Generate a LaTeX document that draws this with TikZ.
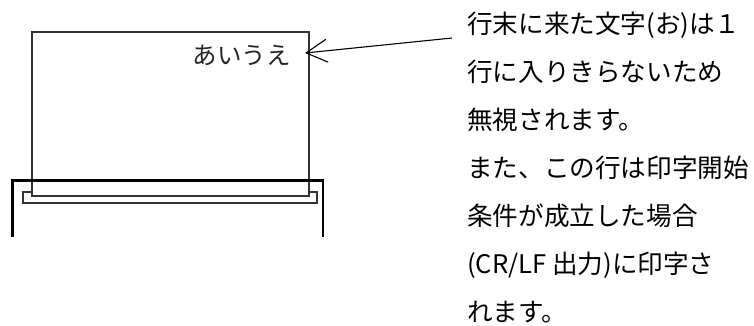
\documentclass[tikz,border=0pt]{standalone}
\usepackage{fontspec}
\newfontfamily\jpfont{Noto Sans CJK JP}
\usetikzlibrary{arrows.meta}
\begin{document}
\begin{tikzpicture}[x=1pt,y=-1pt,
  paperline/.style={draw=black!80,line width=1.3pt},
  txtline/.style={anchor=base west,inner sep=0pt,font=\jpfont\fontsize{25.6}{30}\selectfont},
  pointer/.style={line width=1.1pt,-{Straight Barb[length=21pt,width=23pt]}}]
\useasboundingbox (0,0) rectangle (754,325);
% slot
\draw[draw=black!80,line width=1.2pt] (23,192) rectangle (317,203);
% paper
\draw[paperline,fill=white] (32,32) rectangle (309,196);
% frame
\draw[line width=3pt] (12,237) -- (12,180) -- (323,180);
\draw[line width=1.6pt] (323,179) -- (323,237);
% printed text
\node[anchor=base east,inner sep=0pt,font=\jpfont\fontsize{24.5}{28}\selectfont,text=black!85] (aiue) at (291,64) {あいうえ};
% explanation
\node[txtline] (l1) at (467,33) {行末に来た文字(お)は１};
\node[txtline] (l2) at (467,81) {行に入りきらないため};
\node[txtline] (l3) at (467,129) {無視されます。};
\node[txtline] (l4) at (467,177) {また、この行は印字開始};
\node[txtline] (l5) at (467,225) {条件が成立した場合};
\node[txtline] (l6) at (467,273) {(CR/LF 出力)に印字さ};
\node[txtline] (l7) at (467,321) {れます。};
% arrow
\coordinate (astart) at (452,38);
\coordinate (tip) at (305,53);
\draw[pointer] (astart) -- (tip);
\end{tikzpicture}
\end{document}
